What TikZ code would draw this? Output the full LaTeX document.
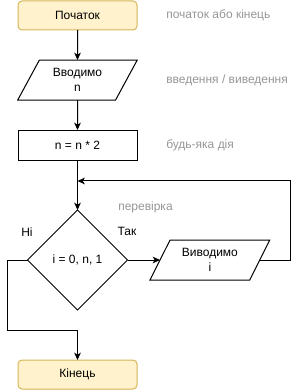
\documentclass[tikz,border=0pt]{standalone}
\usepackage{fontspec}
\setmainfont{Liberation Sans}
\usetikzlibrary{positioning, arrows.meta, shapes.geometric}
\definecolor{termfill}{RGB}{255,242,204}
\definecolor{termdraw}{RGB}{214,182,86}
\definecolor{notegray}{RGB}{150,150,150}
\tikzset{
    termstyle/.style={rectangle, rounded corners=3pt, draw=termdraw, fill=termfill, minimum width=89.25pt, minimum height=21.75pt, align=center, font=\fontsize{9}{11}\selectfont, line width=0.75pt, outer sep=0pt},
    iostyle/.style={trapezium, trapezium left angle=60, trapezium right angle=120, trapezium stretches=true, draw, minimum width=90pt, minimum height=30pt, align=center, font=\fontsize{9}{11}\selectfont, line width=0.75pt, inner sep=1pt, outer sep=0pt},
    procstyle/.style={rectangle, draw, minimum width=89.25pt, minimum height=22.5pt, align=center, font=\fontsize{9}{11}\selectfont, line width=0.75pt, outer sep=0pt},
    decstyle/.style={diamond, draw, aspect=1, minimum width=75pt, minimum height=75pt, align=center, font=\fontsize{9}{11}\selectfont, line width=0.75pt, inner sep=0pt, outer sep=0pt},
    arr/.style={-{Stealth[length=5.5pt, width=5pt, inset=1.5pt]}, line width=0.75pt},
    ln/.style={line width=0.75pt},
    notelbl/.style={font=\fontsize{9}{11}\selectfont, text=notegray, anchor=west, inner sep=0pt},
    branchlbl/.style={font=\fontsize{9}{11}\selectfont, inner sep=0pt}
}
\begin{document}
\begin{tikzpicture}[x=0.75pt, y=-0.75pt, node distance=22.5pt and 24.4pt]
    \useasboundingbox (0,0) rectangle (298,391);
    \node[termstyle] at (77.5, 15.5) (start) {Початок};
    \node[iostyle, below=of start] (in) {Вводимо\\n};
    \node[procstyle, below=of in] (act) {n = n * 2};
    \node[decstyle, below=37.5pt of act] (dec) {i = 0, n, 1};
    \node[iostyle, right=of dec] (out) {Виводимо\\i};
    \node[termstyle, below=37.5pt of dec] (fin) {Кінець};
    \coordinate (merge) at (77.5, 181);
    \coordinate (nojoin) at (77.5, 330);
    % notes
    \node[notelbl] at (166, 15.5) (n1) {початок або кінець};
    \node[notelbl] at (166, 80) (n2) {введення / виведення};
    \node[notelbl] at (166, 145) (n3) {будь-яка дія};
    \node[notelbl] at (118, 207) (n4) {перевірка};
    \node[branchlbl] at (27, 232) (no) {Ні};
    \node[branchlbl] at (127, 231) (yes) {Так};
    % connectors
    \draw[arr] (start) -- (in);
    \draw[arr] (in) -- (act);
    \draw[arr] (act) -- (dec);
    \draw[arr] (dec.east) -- (out.west);
    \draw[arr] (out.east) -- ++(31,0) |- (merge);
    \draw[ln] (dec.west) -- ++(-20,0) |- (nojoin);
    \draw[arr] (nojoin) -- (fin);
\end{tikzpicture}
\end{document}
